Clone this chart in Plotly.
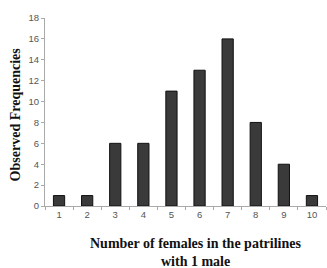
import plotly.graph_objects as go

categories = ["1", "2", "3", "4", "5", "6", "7", "8", "9", "10"]
frequencies = [1, 1, 6, 6, 11, 13, 16, 8, 4, 1]
y_ticks = [0, 2, 4, 6, 8, 10, 12, 14, 16, 18]

fig = go.Figure()
fig.add_trace(go.Bar(
    x=categories, y=frequencies,
    marker=dict(color="#3a3a3a", line=dict(color="#111111", width=1)),
))

title_font = dict(family="Liberation Serif, Times New Roman", size=14, color="#111111")

fig.update_layout(
    width=327, height=268,
    margin=dict(l=45, r=1, t=18, b=62, autoexpand=False),
    plot_bgcolor="white", paper_bgcolor="white",
    bargap=0.6, showlegend=False,
    font=dict(family="Liberation Sans, Arial", size=9, color="#555555"),
    xaxis=dict(
        type="category", showline=True, linecolor="#aaaaaa", linewidth=1,
        ticks="outside", tickson="boundaries", ticklen=3, tickcolor="#aaaaaa",
        showgrid=False, tickfont=dict(size=9.5, color="#555555"), automargin=False,
    ),
    yaxis=dict(
        range=[0, 18], tickvals=y_ticks, showline=True, linecolor="#aaaaaa",
        linewidth=1, ticks="outside", ticklen=3, tickcolor="#aaaaaa",
        showgrid=False, zeroline=False, tickfont=dict(size=9.5, color="#555555"),
        automargin=False,
    ),
    annotations=[
        dict(text="<b>Number of females in the patrilines</b>", xref="paper", yref="paper",
             x=0.535, y=-0.198, xanchor="center", yanchor="middle", showarrow=False,
             font=title_font),
        dict(text="<b>with 1 male</b>", xref="paper", yref="paper",
             x=0.535, y=-0.293, xanchor="center", yanchor="middle", showarrow=False,
             font=title_font),
        dict(text="<b>Observed Frequencies</b>", xref="paper", yref="paper",
             x=-0.105, y=0.49, xanchor="center", yanchor="middle", showarrow=False,
             textangle=-90, font=title_font),
    ],
)

fig.write_html("out.html", config={"displayModeBar": False},
               post_script="document.body.style.margin='0';")
